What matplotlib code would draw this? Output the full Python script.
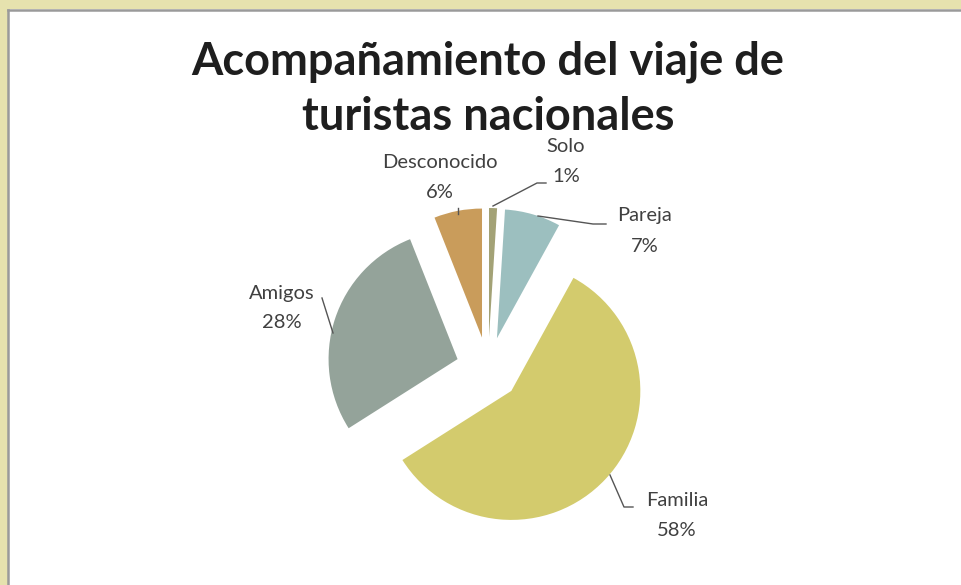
import matplotlib
matplotlib.use("Agg")
import matplotlib.pyplot as plt
from matplotlib.patches import Rectangle

categories = ["Solo", "Pareja", "Familia", "Amigos", "Desconocido"]
values = [1, 7, 58, 28, 6]
colors = ["#A3A276", "#9CBFBF", "#D3CB6D", "#94A39A", "#C99C5B"]
title_lines = ["Acompañamiento del viaje de", "turistas nacionales"]

W, H = 962, 585
fig = plt.figure(figsize=(W / 100, H / 100), dpi=100)
ax = fig.add_axes([0, 0, 1, 1])

def Y(py):
    return H - py

# frame
ax.add_patch(Rectangle((0, Y(9)), W, 9, facecolor="#E6E2AE", edgecolor="none"))
ax.add_patch(Rectangle((0, 0), 8, H, facecolor="#E6E2AE", edgecolor="none"))
ax.plot([8.5, W], [Y(9.5), Y(9.5)], color="#9A9A9A", lw=1.8)
ax.plot([8.5, 8.5], [0, Y(9.5)], color="#9A9A9A", lw=1.8)

cx, cy, r = 488, Y(369), 129
ax.pie(values, colors=colors, startangle=90, counterclock=False,
       explode=[32] * len(values), radius=r, center=(cx, cy),
       wedgeprops=dict(linewidth=0), frame=False)
ax.set_xlim(0, W)
ax.set_ylim(0, H)
ax.set_aspect("auto")
ax.axis("off")

for line, ty in zip(title_lines, [62, 117]):
    ax.text(488, Y(ty), line, ha="center", va="center", fontsize=32.5,
            fontweight="bold", family="Lato", color="#1E1E1E")

lab_color = "#404040"
pcts = [f"{v}%" for v in values]
label_pos = {
    "Solo": (566, 147),
    "Pareja": (645, 216),
    "Familia": (677, 500),
    "Amigos": (282, 293),
    "Desconocido": (440, 162),
}
for name, p in zip(categories, pcts):
    x, y = label_pos[name]
    ax.text(x, Y(y), name, ha="center", va="center", fontsize=14.5,
            family="Lato", color=lab_color)
    ax.text(x, Y(y + 30), p, ha="center", va="center", fontsize=14.5,
            family="Lato", color=lab_color)

leaders = [
    [(493, 206), (537, 183), (546, 183)],
    [(538, 216), (593, 224), (606, 224)],
    [(458, 208), (458, 214)],
    [(322, 298), (333, 333)],
    [(610, 475), (624, 507), (633, 507)],
]
for pts in leaders:
    ax.plot([p[0] for p in pts], [Y(p[1]) for p in pts], color="#555555", lw=1)

fig.savefig("out.png", dpi=100)
